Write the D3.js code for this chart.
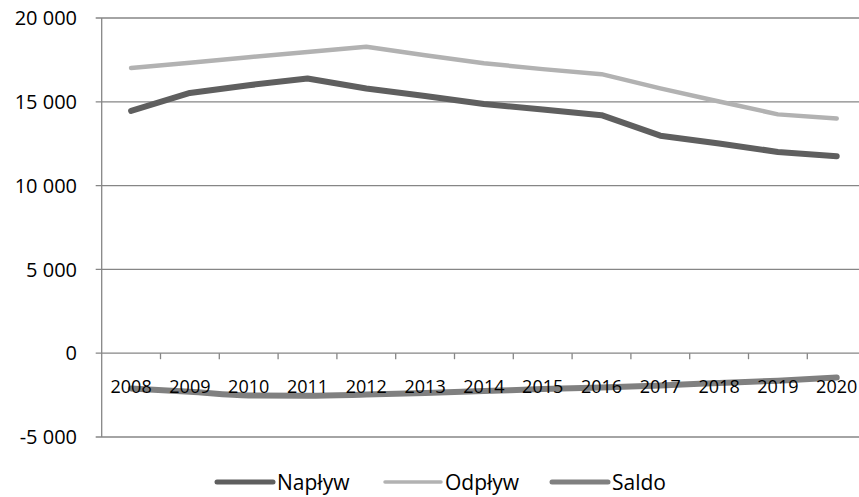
<!DOCTYPE html>
<html>
<head>
<meta charset="utf-8">
<script src="https://cdn.jsdelivr.net/npm/d3@7"></script>
<style>
  body { margin: 0; background: #fff; }
  svg { display: block; font-family: "Open Sans", sans-serif; }
</style>
</head>
<body>
<div id="root"></div>
<script>
// data
let years = ["2008", "2009", "2010", "2011", "2012", "2013", "2014", "2015", "2016", "2017", "2018", "2019", "2020"];
let naplyw = [14460, 15530, 15990, 16390, 15790, 15350, 14870, 14540, 14200, 12980, 12510, 12010, 11750];
let odplyw = [17020, 17330, 17660, 17970, 18280, 17780, 17300, 16950, 16650, 15800, 15020, 14250, 14000];
let saldo = [-2100, -2300, -2520, -2540, -2470, -2370, -2260, -2140, -2040, -1920, -1780, -1640, -1450];
let yTicks = [-5000, 0, 5000, 10000, 15000, 20000];

let series = [
  { name: "Napływ", values: naplyw, color: "#5f5f5f", width: 6, curve: d3.curveLinear },
  { name: "Odpływ", values: odplyw, color: "#b2b2b2", width: 4.5, curve: d3.curveLinear },
  { name: "Saldo", values: saldo, color: "#808080", width: 6, curve: d3.curveMonotoneX },
];

// set the dimensions
let W = 859, H = 497;
let margin = { left: 101.7, top: 18, bottom: 437 };
let band = 58.8;

let svg = d3.select("#root").append("svg").attr("width", W).attr("height", H);

// scales
let x = d3.scaleBand().domain(years).range([margin.left, margin.left + band * years.length]).padding(0);
let y = d3.scaleLinear().domain([-5000, 20000]).range([margin.bottom, margin.top]);

// formatting with a space as thousands separator
let fmt = (d) => d3.format(",")(d).replace(/,/g, " ").replace("−", "-");

// gridlines
svg.append("g")
  .selectAll("line")
  .data(yTicks)
  .join("line")
  .attr("x1", margin.left - 6)
  .attr("x2", W)
  .attr("y1", (d) => y(d))
  .attr("y2", (d) => y(d))
  .attr("stroke", "#868686")
  .attr("stroke-width", 1.3);

// y axis line
svg.append("line")
  .attr("x1", margin.left).attr("x2", margin.left)
  .attr("y1", margin.top).attr("y2", margin.bottom)
  .attr("stroke", "#868686")
  .attr("stroke-width", 1.3);

// y labels
svg.append("g")
  .selectAll("text")
  .data(yTicks)
  .join("text")
  .attr("x", 77)
  .attr("y", (d) => y(d))
  .attr("dy", "0.36em")
  .attr("text-anchor", "end")
  .attr("font-size", 20)
  .attr("fill", "#000")
  .text(fmt);

// x ticks at band boundaries on the zero line
svg.append("g")
  .selectAll("line")
  .data(years.slice(0, -1))
  .join("line")
  .attr("x1", (d) => x(d) + x.bandwidth())
  .attr("x2", (d) => x(d) + x.bandwidth())
  .attr("y1", y(0))
  .attr("y2", y(0) + 6)
  .attr("stroke", "#868686")
  .attr("stroke-width", 1.3);

// lines
series.forEach((s) => {
  let line = d3.line()
    .x((d, i) => x(years[i]) + x.bandwidth() / 2)
    .y((d) => y(d))
    .curve(s.curve);
  svg.append("path")
    .datum(s.values)
    .attr("d", line)
    .attr("fill", "none")
    .attr("stroke", s.color)
    .attr("stroke-width", s.width)
    .attr("stroke-linecap", "round")
    .attr("stroke-linejoin", "round");
});

// year labels
svg.append("g")
  .selectAll("text")
  .data(years)
  .join("text")
  .attr("x", (d) => x(d) + x.bandwidth() / 2)
  .attr("y", 393)
  .attr("text-anchor", "middle")
  .attr("font-size", 18)
  .attr("fill", "#000")
  .text((d) => d);

// legend
let legendX = [217, 385, 552];
let legend = svg.append("g")
  .selectAll("g")
  .data(series)
  .join("g")
  .attr("transform", (d, i) => "translate(" + legendX[i] + ",482)");

legend.append("line")
  .attr("x1", 0).attr("x2", 56)
  .attr("stroke", (d) => d.color)
  .attr("stroke-width", (d) => d.width - 1)
  .attr("stroke-linecap", "round");

legend.append("text")
  .attr("x", 60)
  .attr("dy", "0.36em")
  .attr("font-size", 21)
  .attr("fill", "#000")
  .text((d) => d.name);
</script>
</body>
</html>
